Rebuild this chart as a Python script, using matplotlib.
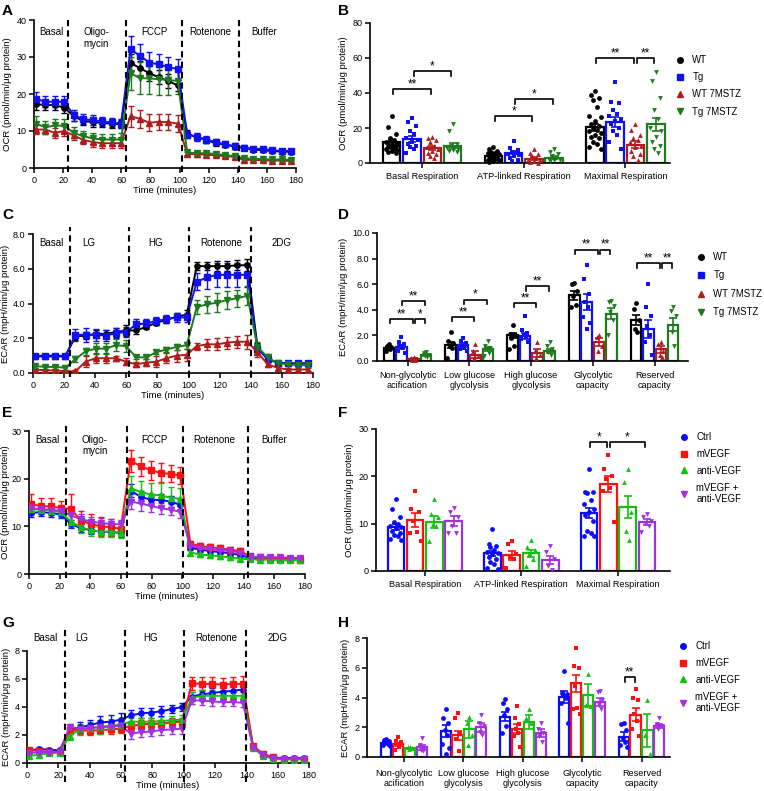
import numpy as np
import matplotlib
matplotlib.use("Agg")
import matplotlib.pyplot as plt
from matplotlib.lines import Line2D

plt.rcParams['font.family'] = ['Liberation Sans', 'DejaVu Sans']
plt.rcParams['font.size'] = 6.5

W, H = 764, 791

# ---------------- data ----------------
times = [1.3, 7.8, 14.3, 20.8, 27.3, 33.8, 40.3, 46.8, 53.3, 59.8,
         66.3, 72.8, 79.3, 85.8, 92.3, 98.8, 105.3, 111.8, 118.3, 124.8,
         131.3, 137.8, 144.3, 150.8, 157.3, 163.8, 170.3, 176.8]

# A: OCR (WT / Tg / WT 7MSTZ / Tg 7MSTZ)
a_wt = [17.3, 17.0, 17.0, 16.3, 14.0, 12.7, 12.4, 12.2, 12.0, 11.8,
        28.4, 27.0, 25.6, 24.5, 23.5, 22.3, 9.3, 8.3, 7.6, 6.7, 6.3, 5.8,
        5.4, 5.0, 4.8, 4.6, 4.4, 4.4]
a_wt_err = [1.5, 1.3, 1.3, 1.3, 1.2, 1.2, 1.2, 1.1, 1.1, 1.1,
            2.3, 2.0, 2.0, 1.9, 1.8, 1.6, 0.9, 0.8, 0.8, 0.7, 0.7, 0.6,
            0.5, 0.5, 0.5, 0.5, 0.5, 0.5]
a_tg = [18.7, 17.9, 17.9, 17.9, 14.3, 13.2, 12.9, 12.6, 12.3, 12.0,
        32.1, 30.3, 28.5, 28.0, 27.3, 26.7, 9.0, 8.4, 7.7, 7.0, 6.4, 5.9,
        5.5, 5.2, 5.1, 4.8, 4.6, 4.6]
a_tg_err = [1.8, 1.5, 1.5, 1.5, 1.5, 1.3, 1.3, 1.3, 1.3, 1.3,
            3.5, 3.3, 2.9, 2.9, 2.8, 2.8, 1.0, 1.0, 0.9, 0.9, 0.8, 0.8,
            0.6, 0.6, 0.6, 0.6, 0.6, 0.6]
a_wt7 = [10.4, 10.4, 9.5, 10.0, 8.8, 7.6, 7.0, 6.7, 6.7, 6.7,
         14.0, 13.3, 12.2, 12.5, 12.4, 12.0, 3.8, 3.7, 3.6, 3.4, 3.2, 3.0,
         2.2, 2.2, 2.1, 2.0, 2.0, 1.9]
a_wt7_err = [1.3, 1.3, 1.3, 1.3, 1.2, 1.2, 1.2, 1.2, 1.2, 1.2,
             2.8, 2.5, 2.3, 2.2, 2.2, 2.3, 0.6, 0.6, 0.6, 0.5, 0.5, 0.5,
             0.3, 0.3, 0.3, 0.3, 0.3, 0.3]
a_tg7 = [12.0, 11.0, 11.5, 11.4, 9.5, 8.6, 8.0, 7.7, 7.7, 7.7,
         25.6, 24.3, 24.2, 24.0, 23.8, 23.5, 4.2, 4.0, 4.0, 3.8, 3.5, 3.2,
         2.6, 2.5, 2.4, 2.3, 2.3, 2.2]
a_tg7_err = [2.0, 1.8, 1.8, 1.8, 1.5, 1.5, 1.5, 1.6, 1.6, 1.8,
             4.5, 4.3, 4.3, 4.2, 4.0, 3.5, 0.6, 0.6, 0.6, 0.5, 0.5, 0.5,
             0.3, 0.3, 0.3, 0.3, 0.3, 0.3]

# C: ECAR (WT / Tg / WT 7MSTZ / Tg 7MSTZ)
c_wt = [0.98, 1.0, 1.0, 0.98, 2.1, 2.15, 2.25, 2.25, 2.35, 2.45,
        2.45, 2.65, 2.9, 3.05, 3.25, 3.35, 6.15, 6.15, 6.15, 6.15, 6.2, 6.2,
        1.5, 0.8, 0.6, 0.55, 0.55, 0.55]
c_wt_err = [0.1, 0.1, 0.1, 0.1, 0.2, 0.2, 0.25, 0.25, 0.25, 0.3,
            0.2, 0.1, 0.15, 0.2, 0.2, 0.25, 0.25, 0.25, 0.3, 0.3, 0.3, 0.35,
            0.2, 0.15, 0.1, 0.1, 0.1, 0.1]
c_tg = [0.95, 0.95, 0.95, 0.95, 2.2, 2.2, 2.2, 2.15, 2.3, 2.35,
        2.8, 2.85, 3.0, 3.1, 3.2, 3.2, 5.25, 5.5, 5.65, 5.65, 5.65, 5.65,
        1.4, 0.8, 0.6, 0.55, 0.55, 0.55]
c_tg_err = [0.15, 0.15, 0.15, 0.15, 0.35, 0.4, 0.35, 0.3, 0.3, 0.3,
            0.3, 0.25, 0.25, 0.25, 0.25, 0.25, 0.5, 0.65, 0.7, 0.7, 0.7, 0.7,
            0.2, 0.15, 0.1, 0.1, 0.1, 0.1]
c_wt7 = [0.2, 0.15, 0.15, 0.1, 0.1, 0.65, 0.85, 0.85, 0.85, 0.65,
         0.5, 0.6, 0.65, 0.85, 1.0, 1.05, 1.55, 1.65, 1.65, 1.75, 1.8, 1.8,
         1.2, 0.5, 0.3, 0.2, 0.2, 0.2]
c_wt7_err = [0.1, 0.1, 0.1, 0.1, 0.05, 0.3, 0.3, 0.3, 0.15, 0.2,
             0.15, 0.2, 0.3, 0.3, 0.35, 0.35, 0.2, 0.3, 0.35, 0.35, 0.35, 0.4,
             0.3, 0.15, 0.1, 0.1, 0.1, 0.1]
c_tg7 = [0.4, 0.35, 0.35, 0.3, 0.8, 1.25, 1.4, 1.4, 1.6, 1.55,
         0.9, 0.9, 1.2, 1.35, 1.5, 1.6, 3.8, 3.95, 4.05, 4.2, 4.3, 4.45,
         1.5, 0.9, 0.55, 0.5, 0.45, 0.45]
c_tg7_err = [0.1, 0.1, 0.1, 0.1, 0.15, 0.2, 0.3, 0.3, 0.35, 0.35,
             0.1, 0.1, 0.1, 0.15, 0.15, 0.2, 0.4, 0.5, 0.55, 0.5, 0.5, 0.55,
             0.3, 0.2, 0.1, 0.1, 0.1, 0.1]

# E: OCR (Ctrl / mVEGF / anti-VEGF / mVEGF + anti-VEGF)
e_ctrl = [12.8, 13.0, 12.8, 12.5, 10.5, 9.6, 9.2, 8.9, 8.8, 8.6,
          17.5, 16.2, 15.6, 15.5, 15.2, 14.5, 5.5, 5.1, 4.8, 4.6, 4.3, 4.0,
          3.3, 3.3, 3.3, 3.2, 3.2, 3.2]
e_ctrl_err = [0.8, 0.8, 0.8, 0.8, 0.8, 0.8, 0.8, 0.8, 0.8, 0.8,
              1.3, 1.3, 1.2, 1.2, 1.2, 1.2, 0.5, 0.5, 0.5, 0.5, 0.5, 0.5,
              0.3, 0.3, 0.3, 0.3, 0.3, 0.3]
e_mvegf = [14.7, 14.2, 14.2, 13.8, 13.7, 11.2, 10.5, 10.0, 9.8, 9.5,
           23.8, 22.6, 21.8, 21.2, 21.0, 20.7, 6.3, 5.9, 5.6, 5.4, 5.1, 4.8,
           3.7, 3.5, 3.3, 3.2, 3.1, 3.0]
e_mvegf_err = [2.0, 1.7, 1.8, 1.6, 3.0, 2.0, 2.0, 2.0, 1.8, 1.5,
               2.3, 2.0, 2.0, 2.0, 1.8, 1.8, 0.7, 0.7, 0.7, 0.7, 0.6, 0.6,
               0.4, 0.4, 0.4, 0.4, 0.4, 0.4]
e_anti = [13.6, 13.5, 13.3, 13.0, 11.0, 9.8, 9.2, 8.9, 8.9, 8.7,
          18.0, 17.2, 16.7, 16.5, 16.0, 15.8, 4.5, 4.1, 3.9, 3.7, 3.5, 3.2,
          3.1, 3.0, 3.0, 2.9, 2.9, 2.9]
e_anti_err = [1.0, 1.0, 1.0, 1.0, 1.2, 1.2, 1.2, 1.2, 1.2, 1.2,
              2.5, 2.3, 2.3, 2.5, 2.3, 2.3, 0.5, 0.5, 0.5, 0.5, 0.5, 0.5,
              0.3, 0.3, 0.3, 0.3, 0.3, 0.3]
e_both = [13.8, 13.6, 13.5, 13.2, 12.3, 11.5, 11.0, 10.7, 10.5, 10.4,
          15.2, 14.8, 14.3, 13.8, 13.5, 13.0, 5.8, 5.5, 5.2, 5.0, 4.8, 4.5,
          3.5, 3.6, 3.5, 3.5, 3.4, 3.4]
e_both_err = [1.0, 1.0, 1.0, 1.0, 1.0, 1.0, 1.0, 1.0, 1.0, 1.0,
              1.5, 1.5, 1.3, 1.2, 1.2, 1.2, 0.5, 0.5, 0.5, 0.5, 0.5, 0.5,
              0.3, 0.3, 0.3, 0.3, 0.3, 0.3]

# G: ECAR (Ctrl / mVEGF / anti-VEGF / mVEGF + anti-VEGF)
g_ctrl = [0.9, 1.0, 0.95, 0.9, 2.4, 2.55, 2.7, 2.9, 2.95, 3.1,
          3.4, 3.55, 3.6, 3.7, 3.85, 4.0, 4.75, 4.9, 5.0, 5.1, 5.15, 5.25,
          1.2, 0.6, 0.4, 0.35, 0.35, 0.35]
g_ctrl_err = [0.15, 0.15, 0.15, 0.15, 0.3, 0.35, 0.4, 0.45, 0.45, 0.45,
              0.4, 0.35, 0.35, 0.35, 0.3, 0.3, 0.35, 0.35, 0.35, 0.4, 0.4, 0.4,
              0.1, 0.1, 0.1, 0.1, 0.1, 0.1]
g_mvegf = [0.95, 0.85, 0.8, 0.8, 2.35, 2.35, 2.3, 2.35, 2.4, 2.45,
           2.65, 2.75, 2.8, 2.8, 2.9, 2.95, 5.7, 5.65, 5.65, 5.6, 5.65, 5.65,
           1.2, 0.65, 0.4, 0.3, 0.3, 0.3]
g_mvegf_err = [0.15, 0.15, 0.15, 0.15, 0.25, 0.3, 0.3, 0.3, 0.3, 0.3,
               0.3, 0.3, 0.3, 0.3, 0.3, 0.3, 0.45, 0.5, 0.5, 0.5, 0.5, 0.55,
               0.1, 0.1, 0.1, 0.1, 0.1, 0.1]
g_anti = [0.5, 0.6, 0.7, 0.75, 1.95, 2.4, 2.5, 2.6, 2.65, 2.75,
          2.95, 2.95, 2.95, 3.0, 3.05, 3.1, 4.65, 4.8, 4.8, 4.8, 4.8, 4.8,
          1.1, 0.5, 0.3, 0.25, 0.25, 0.25]
g_anti_err = [0.15, 0.15, 0.15, 0.15, 0.3, 0.4, 0.45, 0.5, 0.5, 0.5,
              0.3, 0.3, 0.3, 0.3, 0.3, 0.3, 0.4, 0.4, 0.4, 0.4, 0.4, 0.4,
              0.1, 0.1, 0.1, 0.1, 0.1, 0.1]
g_both = [0.75, 0.75, 0.75, 0.8, 2.6, 2.45, 2.5, 2.55, 2.6, 2.65,
          2.1, 2.2, 2.25, 2.35, 2.4, 2.45, 4.5, 4.45, 4.4, 4.35, 4.35, 4.3,
          1.1, 0.55, 0.35, 0.3, 0.3, 0.3]
g_both_err = [0.1, 0.1, 0.1, 0.1, 0.2, 0.2, 0.2, 0.2, 0.2, 0.2,
              0.35, 0.35, 0.35, 0.35, 0.35, 0.35, 0.3, 0.3, 0.3, 0.3, 0.3, 0.3,
              0.1, 0.1, 0.1, 0.1, 0.1, 0.1]

# B: OCR bar chart
b_groups = ["Basal Respiration", "ATP-linked Respiration", "Maximal Respiration"]
b_wt_mean = [12.0, 4.2, 20.3]
b_tg_mean = [13.5, 5.8, 23.5]
b_wt7_mean = [8.5, 2.5, 10.5]
b_tg7_mean = [10.0, 3.0, 22.0]
b_wt_sem = [1.2, 0.6, 2.0]
b_tg_sem = [1.7, 0.9, 2.7]
b_wt7_sem = [1.2, 0.7, 1.9]
b_tg7_sem = [1.3, 0.8, 3.8]
b_wt_pts = [[27, 20.5, 16.5, 14.5, 13, 12, 11, 10.5, 10, 9.5, 9, 8.5, 8, 7.5, 7, 6.5, 6],
            [9, 8, 7, 6.5, 6, 5.5, 5, 4.5, 4, 3.5, 3, 2.5, 2, 1.5, 1, 0.5],
            [41, 39, 37, 36, 32, 27, 26, 24, 22, 21, 20, 19, 18, 17, 16, 15, 14, 12, 11, 9, 8]]
b_tg_pts = [[25.5, 23.5, 21, 18, 16.5, 14, 13, 12, 11, 10, 9, 8, 6],
            [12.8, 8.5, 7.5, 6.5, 6, 5, 4.5, 4, 3, 2, 1],
            [46, 35, 34, 30, 28, 27, 25, 24, 22, 20, 18, 16, 12, 8]]
b_wt7_pts = [[15, 14, 13, 12, 10, 9, 8, 7, 6, 5, 4, 3],
             [8, 6, 5, 4, 3, 2, 1.5, 1, 0.5, 0.2],
             [22.5, 19, 16, 14, 13, 12, 10, 9, 7, 5, 4, 2]]
b_tg7_pts = [[22.5, 18.5, 11, 10, 9, 8.5, 8, 7.5, 7, 6.5],
             [8, 6.5, 5, 4, 3, 2.5, 2, 1.5, 1],
             [52, 47, 37, 30, 25, 20, 18, 15, 12, 10, 8, 6]]
# (group, bar_i, bar_j, height, label)
b_sig = [(0, 0, 2, 42, "**"), (0, 1, 3, 52.5, "*"),
         (1, 0, 2, 27, "*"), (1, 1, 3, 36.5, "*"),
         (2, 0, 2, 60, "**"), (2, 2, 3, 60, "**")]

# D: ECAR bar chart
d_groups = ["Non-glycolytic\nacification", "Low glucose\nglycolysis",
            "High glucose\nglycolysis", "Glycolytic\ncapacity", "Reserved\ncapacity"]
d_wt_mean = [1.0, 1.25, 2.0, 5.15, 3.2]
d_tg_mean = [1.1, 1.25, 1.95, 4.6, 2.5]
d_wt7_mean = [0.15, 0.5, 0.6, 1.5, 0.9]
d_tg7_mean = [0.45, 0.95, 0.8, 3.7, 2.85]
d_wt_sem = [0.08, 0.25, 0.2, 0.35, 0.4]
d_tg_sem = [0.15, 0.15, 0.2, 0.6, 0.7]
d_wt7_sem = [0.05, 0.25, 0.3, 0.3, 0.3]
d_tg7_sem = [0.08, 0.17, 0.15, 0.45, 0.5]
d_wt_pts = [[1.3, 1.2, 1.1, 1.0, 0.9, 0.8], [2.3, 1.6, 1.4, 1.2, 1.0, 0.2],
            [2.8, 2.1, 2.0, 1.8, 1.2, 0.9], [6.1, 6.0, 5.5, 5.1, 4.4, 4.2],
            [4.5, 4.1, 3.2, 2.5, 2.3]]
d_tg_pts = [[1.9, 1.5, 1.3, 1.2, 1.0, 0.8, 0.6], [1.8, 1.6, 1.4, 1.2, 1.0, 0.9, 0.8],
            [3.5, 2.4, 2.2, 2.0, 1.9, 1.7, 1.5], [7.5, 6.4, 5.2, 4.6, 4.2, 3.4, 3.0, 2.5],
            [6.0, 4.2, 3.5, 2.7, 2.0, 1.5, 0.5]]
d_wt7_pts = [[0.3, 0.2, 0.15, 0.1, 0.1], [1.3, 0.8, 0.4, 0.2],
             [1.5, 0.8, 0.5, 0.2], [2.0, 1.9, 1.2, 0.8],
             [1.5, 1.3, 0.8, 0.5, 0.3]]
d_tg7_pts = [[0.7, 0.6, 0.5, 0.4, 0.3], [1.6, 1.2, 1.0, 0.9, 0.6, 0.4],
             [1.5, 1.2, 0.9, 0.7, 0.5], [4.7, 4.6, 4.3, 3.8, 3.2, 2.0],
             [4.2, 3.9, 3.5, 2.3, 1.2]]
d_sig = [(0, 0, 2, 3.3, "**"), (0, 2, 3, 3.3, "*"), (0, 1, 3, 4.7, "**"),
         (1, 0, 2, 3.45, "**"), (1, 1, 3, 4.8, "*"),
         (2, 0, 2, 4.55, "**"), (2, 1, 3, 5.85, "**"),
         (3, 0, 2, 8.7, "**"), (3, 2, 3, 8.7, "**"),
         (4, 0, 2, 7.65, "**"), (4, 2, 3, 7.65, "**")]

# F: OCR bar chart (VEGF)
f_ctrl_mean = [9.3, 3.7, 12.3]
f_mvegf_mean = [10.8, 3.3, 18.4]
f_anti_mean = [10.3, 3.7, 13.5]
f_both_mean = [10.6, 2.3, 10.3]
f_ctrl_sem = [0.6, 0.55, 1.1]
f_mvegf_sem = [1.4, 0.9, 1.7]
f_anti_sem = [1.3, 0.8, 2.4]
f_both_sem = [1.0, 0.9, 0.6]
f_ctrl_pts = [[15.3, 13.1, 11.4, 10.4, 10, 9.6, 9.3, 9, 8.4, 8.1, 7.7, 7.3, 6.8, 6.5],
              [8.9, 5.6, 5.2, 5.1, 4.5, 4.0, 3.8, 3.5, 3.0, 2.5, 2.0, 1.5, 0.6, 0.4],
              [21.6, 16.6, 16.6, 16.5, 15.0, 14.2, 13.0, 12.5, 11.8, 10.5, 8.5, 8.0, 7.5, 7.5]]
f_mvegf_pts = [[16.9, 13.2, 12.5, 10.5, 8.2, 8.0, 6.3],
               [6.4, 5.8, 3.6, 3.0, 2.5, 0.7],
               [24.5, 21.5, 20.0, 19.5, 17.5, 16.8, 10.3]]
f_anti_pts = [[15.3, 12.0, 11.5, 10.0, 9.5, 6.4],
              [6.5, 5.0, 4.5, 3.5, 2.5, 1.0],
              [21.6, 18.8, 12.5, 8.5, 6.5]]
f_both_pts = [[13.4, 12.4, 11.5, 9.5, 8.0, 8.0],
              [5.2, 4.0, 2.5, 1.0, 0.3],
              [12.0, 11.5, 10.5, 10.2, 9.5, 8.2]]
f_sig = [(2, 0, 1, 27.2, "*"), (2, 1, 3, 27.2, "*")]

# H: ECAR bar chart (VEGF)
h_ctrl_mean = [0.95, 1.75, 2.7, 4.05, 1.35]
h_mvegf_mean = [0.85, 1.45, 1.9, 4.95, 2.85]
h_anti_mean = [0.6, 1.85, 2.35, 4.15, 1.8]
h_both_mean = [0.65, 2.0, 1.6, 3.7, 2.1]
h_ctrl_sem = [0.07, 0.4, 0.3, 0.4, 0.3]
h_mvegf_sem = [0.1, 0.3, 0.3, 0.55, 0.45]
h_anti_sem = [0.03, 0.55, 0.45, 0.75, 1.1]
h_both_sem = [0.15, 0.3, 0.25, 0.3, 0.15]
h_ctrl_pts = [[1.2, 1.15, 1.1, 1.0, 0.9, 0.8, 0.75], [3.2, 2.6, 2.3, 1.8, 1.5, 0.9, 0.6, 0.2],
              [3.9, 3.6, 3.2, 2.8, 2.1, 1.6], [5.75, 4.3, 4.25, 4.2, 4.0, 3.6, 2.3],
              [2.3, 2.2, 1.8, 1.3, 1.0, 0.8, 0.7]]
h_mvegf_pts = [[1.35, 1.1, 1.0, 0.9, 0.7, 0.5], [2.95, 2.6, 1.6, 1.2, 0.4],
               [3.45, 2.6, 2.2, 1.9, 1.6, 1.4, 0.65], [7.3, 6.1, 6.0, 4.8, 3.3, 3.2, 2.9],
               [4.6, 3.95, 3.85, 2.9, 2.4, 1.9, 1.4]]
h_anti_pts = [[0.7, 0.65, 0.6, 0.55], [2.7, 2.3, 1.5, 0.8], [3.2, 2.6, 2.3],
              [5.6, 3.5, 3.4], [3.8, 1.5, 0.2]]
h_both_pts = [[1.25, 0.8, 0.6, 0.5, 0.4], [2.85, 2.3, 2.1, 1.7, 1.5],
              [2.3, 1.9, 1.6, 1.4, 1.0], [4.45, 4.4, 3.8, 3.5, 3.2],
              [2.6, 2.2, 2.1, 1.9]]
h_sig = [(4, 0, 1, 5.35, "**")]

# ---------------- styles ----------------
col1 = ['#000000', '#1010f0', '#b01c1c', '#1d7a1d']
col2 = ['#0a0aff', '#ff1010', '#12c012', '#a030e0']
marks = ['o', 's', '^', 'v']
names1 = ['WT', 'Tg', 'WT 7MSTZ', 'Tg 7MSTZ']
names2 = ['Ctrl', 'mVEGF', 'anti-VEGF', 'mVEGF +\nanti-VEGF']

TICK_FS = 6.5
YLAB_FS = 6.8
CAT_FS = 6.6
PHASE_FS = 7.0
LEG_FS = 6.9

fig = plt.figure(figsize=(W / 100, H / 100), dpi=100)


def add_ax(l, r, t, b):
    return fig.add_axes([l / W, 1 - b / H, (r - l) / W, (b - t) / H])


def style(ax):
    for s in ['top', 'right']:
        ax.spines[s].set_visible(False)
    for s in ['left', 'bottom']:
        ax.spines[s].set_linewidth(1.2)
    ax.tick_params(width=1.1, length=3.5, labelsize=TICK_FS, pad=2)


def line_panel(ax, series, errs, colors, ylim, yticks, fmt, ylabel, vlines,
               phases, phase_x, label_y, vl_top=1.0, vl_bot=-0.03, ypad=3):
    style(ax)
    for y, e, c, m in zip(series, errs, colors, marks):
        ax.errorbar(times, y, yerr=e, color=c, marker=m, ms=3.8, lw=1.4,
                    elinewidth=1.0, capsize=2, capthick=1.0, zorder=3)
    for v in vlines:
        ax.axvline(v, ymin=vl_bot, ymax=vl_top, color='black', lw=1.5,
                   ls=(0, (3, 2)), clip_on=False, zorder=4)
    for lab, px in zip(phases, phase_x):
        ax.text(px, label_y, lab, transform=ax.get_xaxis_transform(),
                ha='center', va='top', fontsize=PHASE_FS, linespacing=1.15)
    ax.set_xlim(0, 180)
    ax.set_xticks(range(0, 181, 20))
    ax.set_ylim(*ylim)
    ax.set_yticks(yticks)
    ax.set_yticklabels([fmt.format(t) for t in yticks])
    ax.set_xlabel("Time (minutes)", fontsize=YLAB_FS, labelpad=1)
    ax.set_ylabel(ylabel, fontsize=YLAB_FS, labelpad=ypad)


def jitter(n):
    pattern = [0, -0.2, 0.2, -0.1, 0.1, -0.28, 0.28]
    return [pattern[i % len(pattern)] for i in range(n)]


def bar_panel(ax, means, sems, pts, colors, groups, ylim, yticks, fmt, ylabel,
              sig, xlim, lab_pad):
    style(ax)
    ng = len(groups)
    for j in range(4):
        xs = [g * 5 + j for g in range(ng)]
        ax.bar(xs, means[j], width=0.86, facecolor='white', edgecolor=colors[j],
               lw=1.6, zorder=2)
        for g in range(ng):
            vals = sorted(pts[j][g], reverse=True)
            off = jitter(len(vals))
            ax.scatter([xs[g] + o for o in off], vals, marker=marks[j], s=12,
                       color=colors[j], zorder=3, linewidths=0, clip_on=False)
        ax.errorbar(xs, means[j], yerr=sems[j], fmt='none', ecolor=colors[j],
                    elinewidth=1.2, capsize=3, capthick=1.2, zorder=4)
    ymax = ylim[1]
    for g, i, k, h, lab in sig:
        x1 = g * 5 + i + 0.08
        x2 = g * 5 + k - 0.08
        d = ymax * 0.035
        ax.plot([x1, x1, x2, x2], [h - d, h, h, h - d], color='black', lw=1.2,
                zorder=5, clip_on=False)
        ax.text((x1 + x2) / 2, h - ymax * 0.01, lab, ha='center', va='bottom',
                fontsize=8.5, zorder=5)
    ax.set_xlim(*xlim)
    ax.set_xticks([g * 5 + 1.5 for g in range(ng)])
    ax.set_xticklabels(groups, fontsize=CAT_FS, linespacing=1.1)
    ax.tick_params(axis='x', pad=lab_pad)
    ax.set_ylim(*ylim)
    ax.set_yticks(yticks)
    ax.set_yticklabels([fmt.format(t) for t in yticks])
    ax.set_ylabel(ylabel, fontsize=YLAB_FS, labelpad=3)


def legend(ax, colors, names, x, y, spacing):
    hs = [Line2D([], [], ls='none', marker=m, color=c, ms=4.0)
          for m, c in zip(marks, colors)]
    ax.legend(hs, names, loc='upper left', bbox_to_anchor=(x / W, 1 - y / H),
              bbox_transform=fig.transFigure, frameon=False, fontsize=LEG_FS,
              handlelength=0.8, handletextpad=0.9, labelspacing=spacing,
              borderpad=0, borderaxespad=0)


ocr_lab = "OCR (pmol/min/\u03bcg protein)"
ecar_lab = "ECAR (mpH/min/\u03bcg protein)"

# A
axA = add_ax(34, 296, 20, 168)
line_panel(axA, [a_wt, a_tg, a_wt7, a_tg7], [a_wt_err, a_tg_err, a_wt7_err, a_tg7_err],
           col1, (0, 40), [0, 10, 20, 30, 40], "{:d}", ocr_lab, [23.5, 63, 101.5, 141],
           ["Basal", "Oligo-\nmycin", "FCCP", "Rotenone", "Buffer"],
           [12, 43, 83, 121, 158], 0.95)

# C
axC = add_ax(33, 313, 234, 373)
line_panel(axC, [c_wt, c_tg, c_wt7, c_tg7], [c_wt_err, c_tg_err, c_wt7_err, c_tg7_err],
           col1, (0, 8), [0, 2, 4, 6, 8], "{:.1f}", ecar_lab, [24, 62, 100.5, 140],
           ["Basal", "LG", "HG", "Rotenone", "2DG"],
           [12, 36, 79, 121, 160], 0.97, vl_top=1.05, ypad=2)

# E
axE = add_ax(29, 305, 431, 574)
line_panel(axE, [e_ctrl, e_mvegf, e_anti, e_both], [e_ctrl_err, e_mvegf_err, e_anti_err, e_both_err],
           col2, (0, 30), [0, 10, 20, 30], "{:d}", ocr_lab, [24, 64, 100.5, 142.5],
           ["Basal", "Oligo-\nmycin", "FCCP", "Rotenone", "Buffer"],
           [12, 43, 82, 121, 160], 0.97, vl_top=1.04, ypad=1)

# G
axG = add_ax(27, 309, 651, 763)
line_panel(axG, [g_ctrl, g_mvegf, g_anti, g_both], [g_ctrl_err, g_mvegf_err, g_anti_err, g_both_err],
           col2, (0, 8), [0, 2, 4, 6, 8], "{:d}", ecar_lab, [24.5, 62.5, 100.2, 139.5],
           ["Basal", "LG", "HG", "Rotenone", "2DG"],
           [12, 35, 79, 121, 160], 1.16, vl_top=1.2, vl_bot=-0.17, ypad=2)

# B
axB = add_ax(370, 670, 23, 163)
bar_panel(axB, [b_wt_mean, b_tg_mean, b_wt7_mean, b_tg7_mean],
          [b_wt_sem, b_tg_sem, b_wt7_sem, b_tg7_sem],
          [b_wt_pts, b_tg_pts, b_wt7_pts, b_tg7_pts], col1, b_groups,
          (0, 80), [0, 20, 40, 60, 80], "{:d}", ocr_lab, b_sig, (-1.07, 13.7), 3)
legend(axB, col1, names1, 676, 55, 0.75)

# D
axD = add_ax(377, 688, 233, 361)
bar_panel(axD, [d_wt_mean, d_tg_mean, d_wt7_mean, d_tg7_mean],
          [d_wt_sem, d_tg_sem, d_wt7_sem, d_tg7_sem],
          [d_wt_pts, d_tg_pts, d_wt7_pts, d_tg7_pts], col1, d_groups,
          (0, 10), [0, 2, 4, 6, 8, 10], "{:.1f}", ecar_lab, d_sig, (-0.97, 24.2), 4)
legend(axD, col1, names1, 697, 252, 0.88)

# F
f_groups = b_groups
axF = add_ax(376, 670, 429, 571)
bar_panel(axF, [f_ctrl_mean, f_mvegf_mean, f_anti_mean, f_both_mean],
          [f_ctrl_sem, f_mvegf_sem, f_anti_sem, f_both_sem],
          [f_ctrl_pts, f_mvegf_pts, f_anti_pts, f_both_pts], col2, f_groups,
          (0, 30), [0, 10, 20, 30], "{:d}", ocr_lab, f_sig, (-1.03, 14.2), 3)
legend(axF, col2, names2, 680, 432, 0.72)

# H
axH = add_ax(367, 670, 638, 757)
bar_panel(axH, [h_ctrl_mean, h_mvegf_mean, h_anti_mean, h_both_mean],
          [h_ctrl_sem, h_mvegf_sem, h_anti_sem, h_both_sem],
          [h_ctrl_pts, h_mvegf_pts, h_anti_pts, h_both_pts], col2, d_groups,
          (0, 8), [0, 2, 4, 6, 8], "{:d}", ecar_lab, h_sig, (-1.63, 23.9), 5)
legend(axH, col2, names2, 679, 641, 0.72)

# panel letters
for lab, x, y in [("A", 2, 11), ("B", 338, 11), ("C", 2, 215), ("D", 338, 215),
                  ("E", 2, 413), ("F", 338, 413), ("G", 2, 623), ("H", 338, 623)]:
    fig.text(x / W, 1 - y / H, lab, fontsize=11, fontweight='bold',
             ha='left', va='center')

fig.savefig("out.png", dpi=100)
